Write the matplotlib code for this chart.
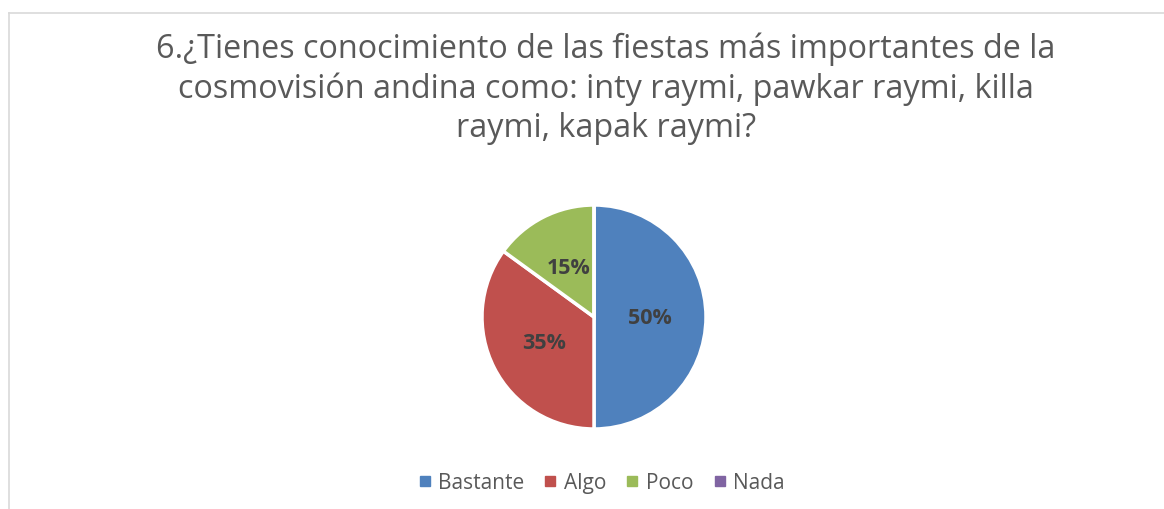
import matplotlib.pyplot as plt
from matplotlib.lines import Line2D

# Data
categories = ["Bastante", "Algo", "Poco", "Nada"]
values = [50, 35, 15, 0]
colors = ["#4F81BD", "#C0504D", "#9BBB59", "#8064A2"]
title = ("6.¿Tienes conocimiento de las fiestas más importantes de la\n"
         "cosmovisión andina como: inty raymi, pawkar raymi, killa\n"
         "raymi, kapak raymi?")

W, H = 1164, 510
fig = plt.figure(figsize=(W / 100, H / 100), dpi=100)
plt.rcParams['font.family'] = ['Open Sans', 'DejaVu Sans']

# chart frame (top and left edges visible)
fig.add_artist(Line2D([9 / W, 1], [1 - 14 / H, 1 - 14 / H], color="#D9D9D9", lw=1.2))
fig.add_artist(Line2D([9 / W, 9 / W], [0, 1 - 14 / H], color="#D9D9D9", lw=1.2))

# Title
fig.text(606 / W, 1 - 89 / H, title, ha="center", va="center", fontsize=23.3,
         color="#595959", linespacing=1.24)

# Pie
cx, cy, r = 594, 318, 112
ax = fig.add_axes([(cx - r) / W, (H - cy - r) / H, 2 * r / W, 2 * r / H])


def fmt(p):
    return f"{p:.0f}%" if p > 0 else ""


wedges, _, autotexts = ax.pie(values, colors=colors, startangle=90, counterclock=False,
                              autopct=fmt, pctdistance=0.5,
                              wedgeprops=dict(edgecolor="white", linewidth=2.5),
                              textprops=dict(color="#404040", fontsize=15.5, fontweight="bold"))
ax.set_xlim(-1, 1)
ax.set_ylim(-1, 1)
ax.set_aspect("equal")
ax.axis("off")

# Legend
handles = [Line2D([], [], marker="s", linestyle="", markersize=7,
                  markerfacecolor=c, markeredgecolor=c) for c in colors]
fig.legend(handles, categories, loc="center", bbox_to_anchor=(600 / W, 1 - 484 / H),
           ncol=4, frameon=False, fontsize=15, handletextpad=0.2, columnspacing=0.8,
           labelcolor="#595959", handlelength=0.9)

fig.savefig("out.png", dpi=100)
